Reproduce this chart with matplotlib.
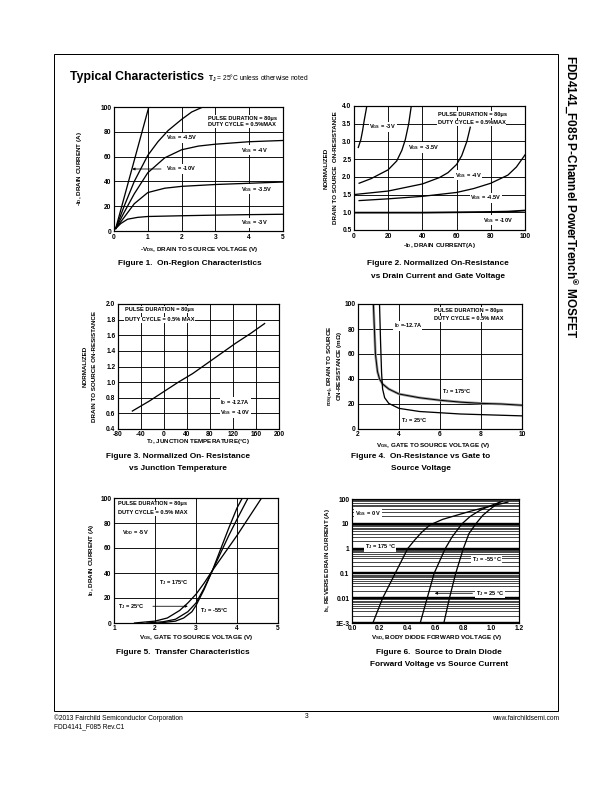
import matplotlib
matplotlib.use("Agg")
import matplotlib.pyplot as plt
from matplotlib.patches import Rectangle

plt.rcParams['font.family'] = ['Liberation Sans', 'DejaVu Sans']
plt.rcParams['font.weight'] = 'bold'
plt.rcParams['axes.unicode_minus'] = False
plt.rcParams['mathtext.fontset'] = 'custom'
plt.rcParams['mathtext.rm'] = 'Liberation Sans:bold'
plt.rcParams['mathtext.it'] = 'Liberation Sans:bold'
plt.rcParams['mathtext.bf'] = 'Liberation Sans:bold'
plt.rcParams['mathtext.sf'] = 'Liberation Sans'
plt.rcParams['mathtext.default'] = 'rm'

# ---------------- data ----------------
# Figure 1: on-region characteristics (-VDS, -ID)
f1_vgs10_x = [0.05, 1.03]
f1_vgs10_y = [2, 100]
f1_vgs45_x = [0.05, 0.3, 0.6, 1.0, 1.3, 1.6, 2.0, 2.3, 2.63]
f1_vgs45_y = [2, 20, 40, 61, 72, 81, 90, 96, 100]
f1_vgs4_x = [0.05, 0.3, 0.6, 1.0, 1.5, 2.0, 2.5, 3.0, 4.0, 5.0]
f1_vgs4_y = [2, 15, 30, 47, 59, 65.5, 68.5, 70, 72, 73]
f1_vgs35_x = [0.05, 0.3, 0.6, 1.0, 1.5, 2.0, 3.0, 4.0, 5.0]
f1_vgs35_y = [2, 11, 22, 31, 34.5, 36, 37.5, 38.5, 39.5]
f1_vgs3_x = [0.05, 0.2, 0.4, 0.7, 1.0, 2.0, 3.0, 4.0, 5.0]
f1_vgs3_y = [2, 6, 9.5, 11, 11.7, 12.3, 12.8, 13.2, 13.5]

# Figure 2: normalized on-resistance vs drain current
f2_vgs3_x = [2.5, 4, 5, 6, 7.5]
f2_vgs3_y = [2.83, 3.05, 3.3, 3.6, 4.0]
f2_vgs35_x = [3, 10, 20, 25, 28, 30, 32, 33.5]
f2_vgs35_y = [1.82, 1.95, 2.2, 2.45, 2.75, 3.05, 3.5, 4.0]
f2_vgs4_x = [0, 20, 40, 50, 55, 60, 63, 66, 68]
f2_vgs4_y = [1.5, 1.6, 1.8, 1.98, 2.12, 2.35, 2.6, 3.0, 3.4]
f2_vgs45_x = [3, 20, 40, 60, 70, 80, 90, 95, 100]
f2_vgs45_y = [1.33, 1.38, 1.45, 1.56, 1.67, 1.82, 2.05, 2.28, 2.62]
f2_vgs10_x = [0, 20, 40, 60, 80, 90, 100]
f2_vgs10_y = [0.99, 0.99, 0.99, 1.0, 1.01, 1.02, 1.05]

# Figure 3: normalized on-resistance vs junction temperature
f3_tj = [-55, -25, 0, 25, 50, 75, 100, 125, 150, 175]
f3_rn = [0.63, 0.76, 0.88, 1.0, 1.11, 1.24, 1.37, 1.5, 1.62, 1.75]

# Figure 4: on-resistance vs gate voltage (mOhm)
f4_t25_v = [3.05, 3.1, 3.15, 3.2, 3.3, 3.5, 4.0, 5.0, 6.0, 7.0, 8.0, 9.0, 10.0]
f4_t25_r = [100, 70, 45, 32, 25, 20.5, 16.5, 14, 13, 12, 11.5, 11, 10.5]
f4_t175_v = [2.75, 2.8, 2.85, 2.95, 3.05, 3.2, 3.5, 4.0, 5.0, 6.0, 7.0, 8.0, 9.0, 10.0]
f4_t175_r = [100, 80, 60, 46, 40, 36, 32, 28, 25, 23, 21.5, 20.5, 20, 19]

# Figure 5: transfer characteristics
f5_t175_v = [1.5, 2.0, 2.3, 2.6, 2.8, 3.0, 3.2, 3.4, 3.7, 4.0, 4.3, 4.6]
f5_t175_i = [0, 1.5, 4, 10, 16, 23, 32, 42, 56, 70, 85, 100]
f5_t25_v = [1.8, 2.2, 2.5, 2.8, 3.0, 3.2, 3.4, 3.6, 3.8, 4.0, 4.27]
f5_t25_i = [0, 1, 3, 9, 16, 28, 42, 56, 70, 83, 100]
f5_tm55_v = [2.1, 2.5, 2.7, 2.9, 3.0, 3.2, 3.4, 3.6, 3.8, 4.0, 4.13]
f5_tm55_i = [0, 1.5, 4, 9, 14, 27, 42, 59, 76, 92, 100]

# Figure 6: body diode forward voltage vs source current
f6_t175_v = [0.15, 0.22, 0.31, 0.40, 0.45, 0.50, 0.56, 0.65, 0.75, 0.85, 0.95, 1.05, 1.12]
f6_t175_i = [1e-3, 0.01, 0.1, 1, 2.2, 4.5, 9, 15, 22, 32, 45, 60, 75]
f6_t25_v = [0.49, 0.54, 0.59, 0.67, 0.72, 0.79, 0.85, 0.92, 1.0, 1.08]
f6_t25_i = [1e-3, 0.01, 0.1, 1, 3, 10, 20, 35, 55, 80]
f6_tm55_v = [0.66, 0.70, 0.745, 0.80, 0.84, 0.89, 0.94, 1.0, 1.06]
f6_tm55_i = [1e-3, 0.01, 0.1, 1, 4, 10, 22, 42, 75]

W, H = 612, 792
fig = plt.figure(figsize=(W / 72, H / 72), dpi=72)
WB = dict(facecolor='white', edgecolor='none', pad=0.6)

LBL = 6.3   # axis label size
CAP = 8.3   # caption size
NT = 5.6    # note size
TK = 6.6    # tick label size


def add_ax(x0, y0, x1, y1):
    return fig.add_axes([x0 / W, 1 - y1 / H, (x1 - x0) / W, (y1 - y0) / H])


def ftext(x, y, s, **kw):
    kw.setdefault('ha', 'center')
    kw.setdefault('va', 'center')
    fig.text(x / W, 1 - y / H, s, **kw)


def style(ax, xgrid=True):
    ax.tick_params(length=0, labelsize=TK, pad=2.5)
    for sp in ax.spines.values():
        sp.set_linewidth(1.2)
    ax.grid(True, axis='y', color='black', lw=0.9)
    if xgrid:
        ax.grid(True, axis='x', color='black', lw=0.9)
    ax.set_axisbelow(True)


def note(ax, x, y, s, **kw):
    ax.text(x, y, s, fontsize=NT, bbox=WB, zorder=1.5, va='center', **kw)


def arrow(ax, tip, tail):
    ax.annotate('', xy=tip, xytext=tail,
                arrowprops=dict(arrowstyle='-|>', lw=0.8, color='black', mutation_scale=5))


LW = 1.3

# page frame
fig.add_artist(Rectangle((54 / W, 1 - 711 / H), (558 - 54) / W, (711 - 54) / H,
                         fill=False, lw=1.0, color='black', transform=fig.transFigure))

ftext(70, 77, 'Typical Characteristics', fontsize=12.3, ha='left')
ftext(208, 78.5, r'$\mathsf{T_J}$ = 25°C unless otherwise noted', fontsize=6.6,
      ha='left', fontweight='normal')

ftext(571, 55, r'FDD4141_F085 P-Channel PowerTrench$^{\circledR}$ MOSFET',
      fontsize=11.8, rotation=-90, va='top')

# ---------------- Figure 1 ----------------
ax = add_ax(114, 107, 283, 231)
style(ax)
for xs, ys in [(f1_vgs10_x, f1_vgs10_y), (f1_vgs45_x, f1_vgs45_y), (f1_vgs4_x, f1_vgs4_y),
               (f1_vgs35_x, f1_vgs35_y), (f1_vgs3_x, f1_vgs3_y)]:
    ax.plot(xs, ys, color='black', lw=LW, zorder=2)
ax.set_xlim(0, 5)
ax.set_ylim(0, 100)
ax.set_xticks([0, 1, 2, 3, 4, 5])
ax.set_yticks([0, 20, 40, 60, 80, 100])
note(ax, 2.78, 91, 'PULSE DURATION = 80μs')
note(ax, 2.78, 85.8, 'DUTY CYCLE = 0.5%MAX')
note(ax, 1.53, 75, r'V$_{GS}$ = -4.5V')
note(ax, 3.77, 65, r'V$_{GS}$ = -4V')
note(ax, 1.53, 50, r'V$_{GS}$ = -10V')
note(ax, 3.77, 33.6, r'V$_{GS}$ = -3.5V')
note(ax, 3.77, 6.7, r'V$_{GS}$ = -3V')
arrow(ax, (0.48, 50), (1.45, 50))
ftext(199, 249, r'-V$_{DS}$, DRAIN TO SOURCE VOLTAGE (V)', fontsize=LBL)
ftext(80, 169, r'-I$_D$, DRAIN CURRENT (A)', fontsize=LBL, rotation=90)
ftext(190, 264, 'Figure 1.  On-Region Characteristics', fontsize=CAP)

# ---------------- Figure 2 ----------------
ax = add_ax(354, 106, 525, 230)
style(ax)
for xs, ys in [(f2_vgs3_x, f2_vgs3_y), (f2_vgs35_x, f2_vgs35_y), (f2_vgs4_x, f2_vgs4_y),
               (f2_vgs45_x, f2_vgs45_y)]:
    ax.plot(xs, ys, color='black', lw=LW, zorder=2)
ax.plot(f2_vgs10_x, f2_vgs10_y, color='black', lw=1.8, zorder=2)
ax.set_xlim(0, 100)
ax.set_ylim(0.5, 4.0)
ax.set_xticks([0, 20, 40, 60, 80, 100])
ax.set_yticks([0.5, 1.0, 1.5, 2.0, 2.5, 3.0, 3.5, 4.0])
ax.set_yticklabels(['0.5', '1.0', '1.5', '2.0', '2.5', '3.0', '3.5', '4.0'])
note(ax, 49, 3.76, 'PULSE DURATION = 80μs')
note(ax, 49, 3.53, 'DUTY CYCLE = 0.5%MAX')
note(ax, 9, 3.41, r'V$_{GS}$ = -3V')
note(ax, 31.6, 2.83, r'V$_{GS}$ = -3.5V')
note(ax, 59, 2.05, r'V$_{GS}$ = -4V')
note(ax, 68, 1.41, r'V$_{GS}$ = -4.5V')
note(ax, 75.6, 0.78, r'V$_{GS}$ = -10V')
ftext(440, 246, r'-I$_D$, DRAIN CURRENT(A)', fontsize=LBL)
ftext(326, 168, 'NORMALIZED', fontsize=LBL, rotation=90)
ftext(335, 168, 'DRAIN TO SOURCE  ON-RESISTANCE', fontsize=LBL, rotation=90)
ftext(438, 264, 'Figure 2. Normalized On-Resistance', fontsize=CAP)
ftext(438, 276, 'vs Drain Current and Gate Voltage', fontsize=CAP)

# ---------------- Figure 3 ----------------
ax = add_ax(118, 304, 279, 429)
style(ax)
ax.plot(f3_tj, f3_rn, color='black', lw=LW, zorder=2)
ax.set_xlim(-80, 200)
ax.set_ylim(0.4, 2.0)
ax.set_xticks([-80, -40, 0, 40, 80, 120, 160, 200])
ax.set_yticks([0.4, 0.6, 0.8, 1.0, 1.2, 1.4, 1.6, 1.8, 2.0])
ax.set_yticklabels(['0.4', '0.6', '0.8', '1.0', '1.2', '1.4', '1.6', '1.8', '2.0'])
note(ax, -68.5, 1.93, 'PULSE DURATION = 80μs')
note(ax, -68.5, 1.80, 'DUTY CYCLE = 0.5% MAX')
note(ax, 98, 0.74, r'I$_D$ = -12.7A')
note(ax, 98, 0.61, r'V$_{GS}$ = -10V')
ftext(198, 442, r'T$_J$, JUNCTION TEMPERATURE(°C)', fontsize=LBL)
ftext(85, 366, 'NORMALIZED', fontsize=LBL, rotation=90)
ftext(95, 366, 'DRAIN TO SOURCE ON-RESISTANCE', fontsize=LBL, rotation=90)
ftext(178, 457, 'Figure 3. Normalized On- Resistance', fontsize=CAP)
ftext(178, 469, 'vs Junction Temperature', fontsize=CAP)

# ---------------- Figure 4 ----------------
ax = add_ax(358, 304, 522, 429)
style(ax)
ax.plot(f4_t175_v, f4_t175_r, color='#9a9a9a', lw=2.6, zorder=2)
ax.plot(f4_t175_v, f4_t175_r, color='black', lw=1.0, zorder=2.1)
ax.plot(f4_t25_v, f4_t25_r, color='black', lw=LW, zorder=2)
ax.set_xlim(2, 10)
ax.set_ylim(0, 100)
ax.set_xticks([2, 4, 6, 8, 10])
ax.set_yticks([0, 20, 40, 60, 80, 100])
note(ax, 5.7, 95, 'PULSE DURATION = 80μs')
note(ax, 5.7, 88, 'DUTY CYCLE = 0.5% MAX')
note(ax, 3.74, 82.6, r'I$_D$ =-12.7A')
note(ax, 6.1, 29.7, r'T$_J$ = 175°C')
note(ax, 4.08, 6.7, r'T$_J$ = 25°C')
ftext(433, 446, r'V$_{GS}$, GATE TO SOURCE VOLTAGE (V)', fontsize=LBL)
ftext(331, 366, r'r$_{DS(on)}$, DRAIN TO SOURCE', fontsize=LBL, rotation=90)
ftext(340, 366, r'ON-RESISTANCE (m$\Omega$)', fontsize=LBL, rotation=90)
ftext(421, 457, 'Figure 4.  On-Resistance vs Gate to', fontsize=CAP)
ftext(421, 469, 'Source Voltage', fontsize=CAP)

# ---------------- Figure 5 ----------------
ax = add_ax(114, 498, 278, 623)
style(ax)
for xs, ys in [(f5_t175_v, f5_t175_i), (f5_t25_v, f5_t25_i), (f5_tm55_v, f5_tm55_i)]:
    ax.plot(xs, ys, color='black', lw=LW, zorder=2)
ax.set_xlim(1, 5)
ax.set_ylim(0, 100)
ax.set_xticks([1, 2, 3, 4, 5])
ax.set_yticks([0, 20, 40, 60, 80, 100])
note(ax, 1.1, 95.4, 'PULSE DURATION = 80μs')
note(ax, 1.1, 88, 'DUTY CYCLE = 0.5% MAX')
note(ax, 1.2, 72.6, r'V$_{DD}$ = -5V')
note(ax, 2.1, 32, r'T$_J$ = 175°C')
note(ax, 1.1, 13.4, r'T$_J$ = 25°C')
note(ax, 3.1, 9.6, r'T$_J$ = -55°C')
arrow(ax, (2.85, 13.4), (1.9, 13.4))
ftext(196, 638, r'V$_{GS}$, GATE TO SOURCE VOLTAGE (V)', fontsize=LBL)
ftext(91, 560, r'I$_D$, DRAIN CURRENT (A)', fontsize=LBL, rotation=90)
ftext(183, 652, 'Figure 5.  Transfer Characteristics', fontsize=CAP)

# ---------------- Figure 6 ----------------
ax = add_ax(352, 499, 519, 623)
ax.set_yscale('log')
ax.tick_params(length=0, labelsize=TK, pad=2.5, which='both')
for sp in ax.spines.values():
    sp.set_linewidth(1.2)
ax.grid(True, axis='y', which='minor', color='black', lw=0.7)
ax.grid(True, axis='y', which='major', color='black', lw=2.4)
ax.set_axisbelow(True)
for xs, ys in [(f6_t175_v, f6_t175_i), (f6_t25_v, f6_t25_i), (f6_tm55_v, f6_tm55_i)]:
    ax.plot(xs, ys, color='black', lw=LW, zorder=2)
ax.set_xlim(0, 1.2)
ax.set_ylim(1e-3, 100)
ax.set_xticks([0.0, 0.2, 0.4, 0.6, 0.8, 1.0, 1.2])
ax.set_xticklabels(['0.0', '0.2', '0.4', '0.6', '0.8', '1.0', '1.2'])
ax.set_yticks([1e-3, 0.01, 0.1, 1, 10, 100])
ax.set_yticklabels(['1E-3', '0.01', '0.1', '1', '10', '100'])
note(ax, 0.02, 27, r'V$_{GS}$ = 0 V')
note(ax, 0.09, 1.17, r'T$_J$ = 175 °C')
note(ax, 0.86, 0.36, r'T$_J$ = -55 °C')
note(ax, 0.89, 0.0158, r'T$_J$ = 25 °C')
arrow(ax, (0.58, 0.0158), (0.88, 0.0158))
ftext(437, 638, r'V$_{SD}$, BODY DIODE FORWARD VOLTAGE (V)', fontsize=LBL)
ftext(328, 560, r'I$_S$, REVERSE DRAIN CURRENT (A)', fontsize=LBL, rotation=90)
ftext(439, 652, 'Figure 6.  Source to Drain Diode', fontsize=CAP)
ftext(439, 664, 'Forward Voltage vs Source Current', fontsize=CAP)

# ---------------- footer ----------------
ftext(54, 718, '©2013 Fairchild Semiconductor Corporation', fontsize=6.6, ha='left', fontweight='normal')
ftext(54, 727, 'FDD4141_F085 Rev.C1', fontsize=6.6, ha='left', fontweight='normal')
ftext(307, 716, '3', fontsize=6.6, fontweight='normal')
ftext(559, 719, 'www.fairchildsemi.com', fontsize=6.6, ha='right', fontweight='normal')

fig.savefig('out.png', dpi=72)
